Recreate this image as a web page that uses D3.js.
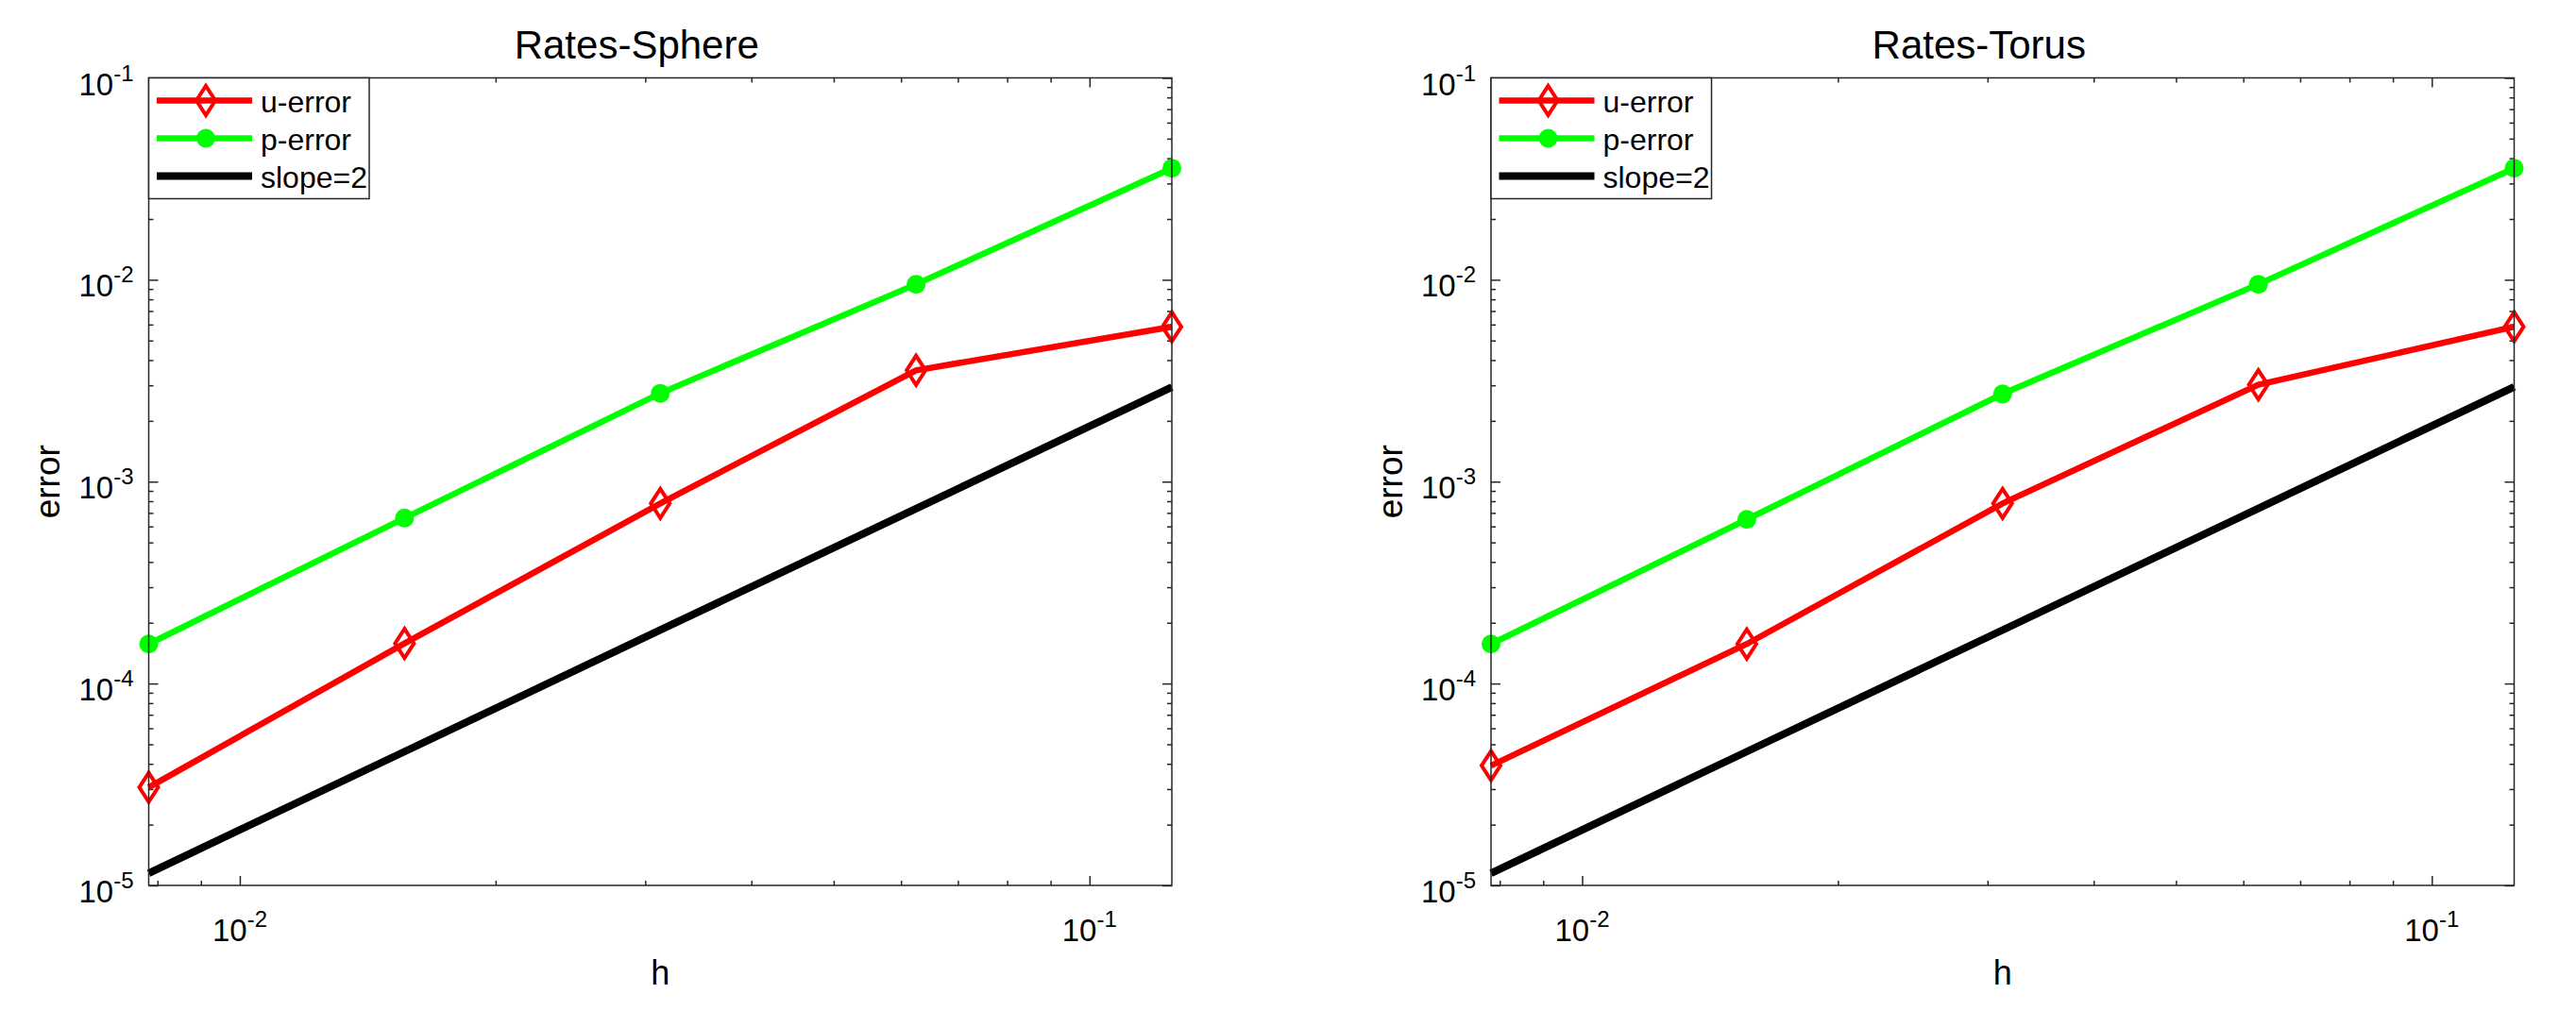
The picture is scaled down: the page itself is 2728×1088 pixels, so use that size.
<!DOCTYPE html>
<html>
<head>
<meta charset="utf-8">
<script src="https://cdn.jsdelivr.net/npm/d3@7"></script>
<style>
  body { margin: 0; background: #fff; }
  text { font-family: "Liberation Sans", Arial, Helvetica, sans-serif; fill: #000; }
</style>
</head>
<body>
<svg width="2728" height="1088"></svg>
<script>
// mesh sizes
var h = [1/8, 1/16, 1/32, 1/64, 1/128];

// errors
var sphereU = [5.85e-3, 3.56e-3, 7.8e-4, 1.58e-4, 3.06e-5];
var sphereP = [3.57e-2, 9.5e-3, 2.74e-3, 6.6e-4, 1.57e-4];
var sphereSlope = [2.94e-3, 7.35e-4, 1.84e-4, 4.6e-5, 1.15e-5];

var torusU = [5.85e-3, 3.02e-3, 7.8e-4, 1.57e-4, 3.92e-5];
var torusP = [3.57e-2, 9.5e-3, 2.72e-3, 6.5e-4, 1.57e-4];
var torusSlope = [2.95e-3, 7.37e-4, 1.84e-4, 4.6e-5, 1.15e-5];

var panelTitles = ["Rates-Sphere", "Rates-Torus"];
var seriesNames = ["u-error", "p-error", "slope=2"];
var xMajorTicks = [1e-2, 1e-1];
var yMajorTicks = [1e-5, 1e-4, 1e-3, 1e-2, 1e-1];

var panels = [
  {title: panelTitles[0], u: sphereU, p: sphereP, slope: sphereSlope, left: 157.5},
  {title: panelTitles[1], u: torusU, p: torusP, slope: torusSlope, left: 1579}
];

var cfg = {
  top: 82.5,
  width: 1083.5,
  height: 855.5,
  axisColor: "#262626"
};

var svg = d3.select("svg");

// minor ticks of a log axis between the given decades
function minorTicks(lo, hi, domain) {
  var out = [];
  for (var k = lo; k < hi; k++) {
    for (var m = 2; m <= 9; m++) {
      var v = m * Math.pow(10, k);
      if (v >= domain[0] && v <= domain[1]) out.push(v);
    }
  }
  return out;
}

function expLabel(sel, v) {
  var e = Math.round(Math.log10(v));
  sel.append("tspan").attr("font-size", 33).text("10");
  sel.append("tspan").attr("font-size", 24).attr("dy", -15).text(String(e));
}

function diamond(g, cx, cy) {
  var hw = 10, hh = 15.5;
  g.append("path")
    .attr("d", "M" + cx + "," + (cy - hh) + "L" + (cx + hw) + "," + cy +
               "L" + cx + "," + (cy + hh) + "L" + (cx - hw) + "," + cy + "Z")
    .attr("fill", "none")
    .attr("stroke", "#ff0000")
    .attr("stroke-width", 4);
}

function drawPanel(panel) {
  var W = cfg.width, H = cfg.height;
  var g = svg.append("g")
    .attr("class", panel.title)
    .attr("transform", "translate(" + panel.left + "," + cfg.top + ")");

  var x = d3.scaleLog().domain([1/128, 1/8]).range([0, W]);
  var y = d3.scaleLog().domain([1e-5, 1e-1]).range([H, 0]);

  var xMinor = minorTicks(-3, -1, x.domain());
  var yMinor = minorTicks(-5, -1, y.domain());

  // ticks, all pointing inward
  function addAxis(axis, tx, ty) {
    var a = g.append("g")
      .attr("transform", "translate(" + tx + "," + ty + ")")
      .call(axis);
    a.select(".domain").remove();
    a.selectAll("line").attr("stroke", cfg.axisColor).attr("stroke-width", 1.5);
    a.selectAll("text").remove();
  }
  addAxis(d3.axisBottom(x).tickValues(xMajorTicks).tickSize(-10), 0, H);
  addAxis(d3.axisBottom(x).tickValues(xMinor).tickSize(-5), 0, H);
  addAxis(d3.axisTop(x).tickValues(xMajorTicks).tickSize(-10), 0, 0);
  addAxis(d3.axisTop(x).tickValues(xMinor).tickSize(-5), 0, 0);
  addAxis(d3.axisLeft(y).tickValues(yMajorTicks).tickSize(-10), 0, 0);
  addAxis(d3.axisLeft(y).tickValues(yMinor).tickSize(-5), 0, 0);
  addAxis(d3.axisRight(y).tickValues(yMajorTicks).tickSize(-10), W, 0);
  addAxis(d3.axisRight(y).tickValues(yMinor).tickSize(-5), W, 0);

  // tick labels
  xMajorTicks.forEach(function(v) {
    var t = g.append("text")
      .attr("x", x(v))
      .attr("y", H + 59)
      .attr("text-anchor", "middle")
      .attr("fill", cfg.axisColor);
    expLabel(t, v);
  });
  yMajorTicks.forEach(function(v) {
    var t = g.append("text")
      .attr("x", -16)
      .attr("y", y(v) + 18)
      .attr("text-anchor", "end")
      .attr("fill", cfg.axisColor);
    expLabel(t, v);
  });

  // data
  var line = d3.line()
    .x(function(d) { return x(d[0]); })
    .y(function(d) { return y(d[1]); });

  var uPts = d3.zip(h, panel.u),
      pPts = d3.zip(h, panel.p),
      sPts = d3.zip(h, panel.slope);

  g.append("path").datum(uPts).attr("d", line)
    .attr("fill", "none").attr("stroke", "#ff0000").attr("stroke-width", 6.5);
  uPts.forEach(function(d) { diamond(g, x(d[0]), y(d[1])); });

  g.append("path").datum(pPts).attr("d", line)
    .attr("fill", "none").attr("stroke", "#00ff00").attr("stroke-width", 6.5);
  g.selectAll("circle.p").data(pPts).enter().append("circle")
    .attr("class", "p")
    .attr("cx", function(d) { return x(d[0]); })
    .attr("cy", function(d) { return y(d[1]); })
    .attr("r", 10)
    .attr("fill", "#00ff00");

  g.append("path").datum(sPts).attr("d", line)
    .attr("fill", "none").attr("stroke", "#000").attr("stroke-width", 8);

  // box
  g.append("rect")
    .attr("width", W).attr("height", H)
    .attr("fill", "none")
    .attr("stroke", cfg.axisColor)
    .attr("stroke-width", 1.5);

  // titles and labels
  g.append("text")
    .attr("x", W / 2 - 25)
    .attr("y", 62 - cfg.top)
    .attr("text-anchor", "middle")
    .attr("font-size", 42)
    .text(panel.title);

  g.append("text")
    .attr("x", W / 2)
    .attr("y", 1043 - cfg.top)
    .attr("text-anchor", "middle")
    .attr("font-size", 36)
    .attr("fill", cfg.axisColor)
    .text("h");

  g.append("text")
    .attr("transform", "translate(" + (63 - 157.5) + "," + (H / 2) + ") rotate(-90)")
    .attr("text-anchor", "middle")
    .attr("font-size", 37)
    .attr("fill", cfg.axisColor)
    .text("error");

  // legend
  var lg = g.append("g").attr("class", "legend");
  lg.append("rect")
    .attr("width", 233.5).attr("height", 128)
    .attr("fill", "#fff")
    .attr("stroke", cfg.axisColor)
    .attr("stroke-width", 1.5);

  var colors = ["#ff0000", "#00ff00", "#000"];
  var widths = [6.5, 6.5, 8];
  seriesNames.forEach(function(name, i) {
    var ry = 24 + i * 40;
    lg.append("line")
      .attr("x1", 8.5).attr("x2", 109.5)
      .attr("y1", ry).attr("y2", ry)
      .attr("stroke", colors[i])
      .attr("stroke-width", widths[i]);
    if (i === 0) diamond(lg, 60.5, ry);
    if (i === 1) lg.append("circle").attr("cx", 60.5).attr("cy", ry).attr("r", 10).attr("fill", "#00ff00");
    lg.append("text")
      .attr("x", 118.5)
      .attr("y", ry + 12)
      .attr("font-size", 32)
      .text(name);
  });
}

panels.forEach(drawPanel);
</script>
</body>
</html>
